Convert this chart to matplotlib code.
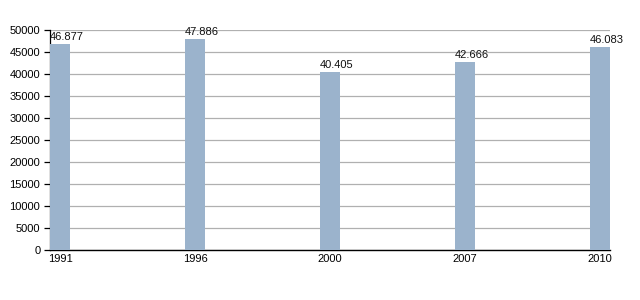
import matplotlib
matplotlib.use("Agg")
import matplotlib.pyplot as plt

years = ["1991", "1996", "2000", "2007", "2010"]
values = [46877, 47886, 40405, 42666, 46083]
yticks = [0, 5000, 10000, 15000, 20000, 25000, 30000, 35000, 40000, 45000, 50000]

plt.rcParams['font.family'] = ['Liberation Sans', 'DejaVu Sans']

fig = plt.figure(figsize=(6.4, 3.0), dpi=100)
ax = fig.add_axes([50/640, 50/300, 560/640, 220/300])

w = 0.148
x = list(range(len(years)))
ax.bar(x, values, width=w, color="#9bb3cc", zorder=3)
for xi, v in zip(x, values):
    s = f"{v:,}".replace(",", ".")
    ax.text(xi - w/2 - 0.005, v + 450, s, ha="left", va="bottom", fontsize=8, color="#111111", zorder=4)

ax.set_xlim(-w/2, len(years) - 1 + w/2)
ax.set_ylim(0, 50000)
ax.set_yticks(yticks)
ax.set_yticklabels([str(t) for t in yticks])
ax.set_xticks(x)
ax.set_xticklabels(years)
ax.yaxis.grid(True, color="#b0b0b0", linewidth=0.9, zorder=0)
ax.set_axisbelow(True)
for s in ["top", "right"]:
    ax.spines[s].set_visible(False)
ax.spines["left"].set_linewidth(0.9)
ax.spines["bottom"].set_linewidth(1.0)
ax.tick_params(axis="y", length=4.5, width=0.9, labelsize=8, pad=2.5)
ax.tick_params(axis="x", length=0, labelsize=8, pad=3)

fig.savefig("out.png", dpi=100)
